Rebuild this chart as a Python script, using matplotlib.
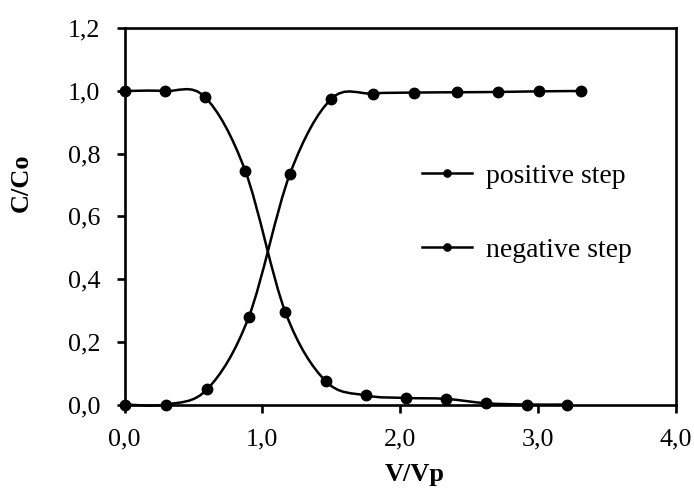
import numpy as np
import matplotlib
matplotlib.use("Agg")
import matplotlib.pyplot as plt
from matplotlib.path import Path
from matplotlib.patches import PathPatch
from matplotlib.lines import Line2D

# Breakthrough data: relative concentration vs. pore volumes
x_pos = [0.0, 0.30, 0.60, 0.90, 1.20, 1.50, 1.80, 2.10, 2.41, 2.71, 3.01, 3.31]
y_pos = [0.0, 0.0, 0.049, 0.278, 0.736, 0.975, 0.992, 0.995, 0.996, 0.997, 0.999, 1.0]

x_neg = [0.0, 0.29, 0.58, 0.875, 1.167, 1.458, 1.75, 2.04, 2.33, 2.625, 2.92, 3.21]
y_neg = [1.0, 1.0, 0.982, 0.746, 0.294, 0.075, 0.029, 0.021, 0.018, 0.004, 0.0, 0.0]

series_labels = ["positive step", "negative step"]
x_ticks = [0, 1, 2, 3, 4]
y_ticks = [0.0, 0.2, 0.4, 0.6, 0.8, 1.0, 1.2]

plt.rcParams["font.family"] = ["Liberation Serif", "DejaVu Serif"]


def smooth_path(x, y):
    """Catmull-Rom style Bezier curve passing through all points."""
    pts = np.column_stack([x, y]).astype(float)
    ext = np.vstack([pts[0], pts, pts[-1]])
    verts = [pts[0]]
    codes = [Path.MOVETO]
    for i in range(len(pts) - 1):
        p0, p1, p2, p3 = ext[i], ext[i + 1], ext[i + 2], ext[i + 3]
        c1 = p1 + (p2 - p0) / 6.0
        c2 = p2 - (p3 - p1) / 6.0
        verts += [c1, c2, p2]
        codes += [Path.CURVE4] * 3
    return Path(np.array(verts), codes)


fig = plt.figure(figsize=(6.94, 4.95), dpi=100)
ax = fig.add_axes([0.1795, 0.1828, 0.7945, 0.760])

lw = 1.8
ms = 7.5
for xs, ys in [(x_pos, y_pos), (x_neg, y_neg)]:
    ax.add_patch(PathPatch(smooth_path(xs, ys), fill=False, edgecolor="black",
                           linewidth=lw, clip_on=False, zorder=3))
    ax.plot(xs, ys, linestyle="none", marker="o", color="black",
            markersize=ms, clip_on=False, zorder=4)

ax.set_xlim(0, 4)
ax.set_ylim(0, 1.2)
ax.set_xticks(x_ticks)
ax.set_yticks(y_ticks)
ax.set_xticklabels([f"{v:.1f}".replace(".", ",") for v in x_ticks])
ax.set_yticklabels([f"{v:.1f}".replace(".", ",") for v in y_ticks])

for s in ax.spines.values():
    s.set_linewidth(1.9)
    s.set_color("black")

ax.tick_params(axis="both", direction="out", length=5.5, width=1.9,
               labelsize=18.7, colors="black")
ax.tick_params(axis="x", pad=12)
ax.tick_params(axis="y", pad=12)

ax.set_xlabel("V/Vp", fontsize=19, fontweight="bold")
ax.set_ylabel("C/Co", fontsize=19, fontweight="bold")
ax.xaxis.set_label_coords(0.526, -0.155)
ax.yaxis.set_label_coords(-0.166, 0.589)

handles = [Line2D([], [], color="black", lw=lw, marker="o", markersize=5.2)
           for _ in series_labels]
ax.legend(handles, series_labels, loc="upper left",
          bbox_to_anchor=(0.539, 0.641), frameon=False, fontsize=20,
          handlelength=1.8, handletextpad=0.5, labelspacing=1.74,
          borderpad=0, borderaxespad=0)

fig.savefig("out.png", dpi=100)
